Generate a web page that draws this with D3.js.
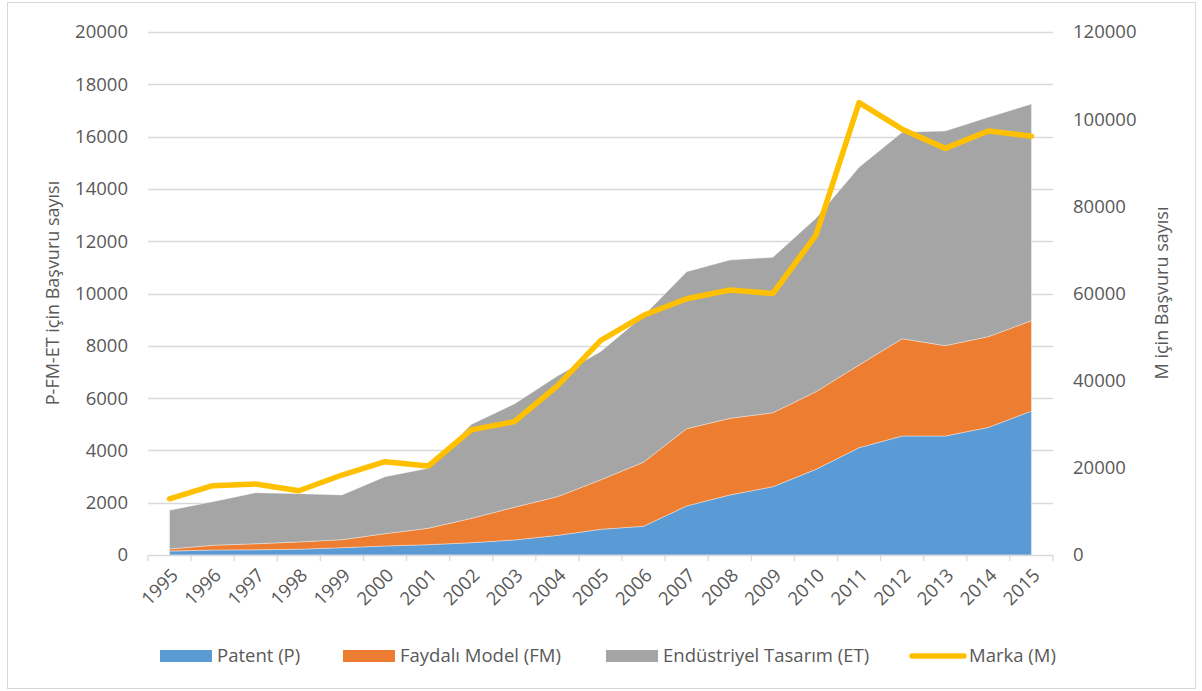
<!DOCTYPE html>
<html>
<head>
<meta charset="utf-8">
<script src="https://cdn.jsdelivr.net/npm/d3@7"></script>
<style>
  body { margin: 0; background: #fff; }
  svg text { font-family: "Open Sans", sans-serif; fill: #595959; }
</style>
</head>
<body>
<svg width="1202" height="691"></svg>
<script>
// data
var years = ["1995","1996","1997","1998","1999","2000","2001","2002","2003","2004","2005",
             "2006","2007","2008","2009","2010","2011","2012","2013","2014","2015"];
var patent = [150,190,200,220,280,345,395,470,575,750,980,1100,1875,2295,2610,3275,4105,4550,4550,4880,5505];
var faydali = [80,180,230,280,305,470,625,930,1250,1480,1890,2450,2955,2930,2830,2970,3160,3720,3455,3470,3455];
var endustriyel = [1480,1670,1950,1845,1710,2180,2295,3595,3950,4615,4905,5600,6005,6055,5945,6630,7560,7895,8210,8390,8285];
var marka = [12900,15900,16300,14750,18350,21400,20400,28700,30600,38800,49200,55000,58800,60800,60000,73400,103800,97700,93300,97300,96100];

var leftTicks = [0,2000,4000,6000,8000,10000,12000,14000,16000,18000,20000];
var rightTicks = [0,20000,40000,60000,80000,100000,120000];

var seriesNames = ["Patent (P)", "Faydalı Model (FM)", "Endüstriyel Tasarım (ET)"];
var seriesColors = ["#5B9BD5", "#ED7D31", "#A5A5A5"];

var svg = d3.select("svg");

// outer chart border
svg.append("rect")
    .attr("x", 7.5).attr("y", 2.5)
    .attr("width", 1188).attr("height", 686)
    .attr("fill", "none")
    .attr("stroke", "#d9d9d9");

var x = d3.scaleBand().domain(years).range([148, 1053]);
var y = d3.scaleLinear().domain([0, 20000]).range([555, 32]);
var y2 = d3.scaleLinear().domain([0, 120000]).range([555, 32]);
var cx = function (yr) { return x(yr) + x.bandwidth() / 2; };

// gridlines
svg.append("g")
    .selectAll("line")
    .data(leftTicks.slice(1))
    .enter().append("line")
    .attr("x1", 148).attr("x2", 1053)
    .attr("y1", function (d) { return Math.round(y(d)) + 0.5; })
    .attr("y2", function (d) { return Math.round(y(d)) + 0.5; })
    .style("stroke", "#d9d9d9")
    .style("stroke-width", 1.3);

// stacked areas
var table = years.map(function (yr, i) {
    return { year: yr, p: patent[i], fm: faydali[i], et: endustriyel[i] };
});
var stack = d3.stack().keys(["p", "fm", "et"]);
var layers = stack(table);

var area = d3.area()
    .x(function (d) { return cx(d.data.year); })
    .y0(function (d) { return y(d[0]); })
    .y1(function (d) { return y(d[1]); });

svg.append("g")
    .selectAll("path")
    .data(layers)
    .enter().append("path")
    .attr("d", area)
    .attr("fill", function (d, i) { return seriesColors[i]; })
    .style("stroke", "#ffffff")
    .style("stroke-width", 0.6)
    .style("stroke-opacity", 0.6);

// x axis
var xAxis = svg.append("g")
    .attr("transform", "translate(0,555)")
    .call(d3.axisBottom(x).tickSize(0).tickFormat(""));
xAxis.select(".domain").style("stroke", "#d9d9d9").style("stroke-width", 1.3);

svg.append("g")
    .selectAll("line")
    .data(years.concat(["end"]))
    .enter().append("line")
    .attr("x1", function (d, i) { return 148 + i * x.bandwidth(); })
    .attr("x2", function (d, i) { return 148 + i * x.bandwidth(); })
    .attr("y1", 555).attr("y2", 561)
    .style("stroke", "#d9d9d9")
    .style("stroke-width", 1.3);

svg.append("g")
    .selectAll("text")
    .data(years)
    .enter().append("text")
    .attr("transform", function (d) { return "translate(" + (cx(d) + 5) + ",572) rotate(-45)"; })
    .attr("text-anchor", "end")
    .attr("dy", "0.35em")
    .style("font-size", "18.5px")
    .text(function (d) { return d; });

// left axis labels
svg.append("g")
    .selectAll("text")
    .data(leftTicks)
    .enter().append("text")
    .attr("x", 128)
    .attr("y", function (d) { return y(d); })
    .attr("dy", "0.35em")
    .attr("text-anchor", "end")
    .style("font-size", "18.5px")
    .text(function (d) { return d; });

// right axis labels
svg.append("g")
    .selectAll("text")
    .data(rightTicks)
    .enter().append("text")
    .attr("x", 1073)
    .attr("y", function (d) { return y2(d); })
    .attr("dy", "0.35em")
    .attr("text-anchor", "start")
    .style("font-size", "18.5px")
    .text(function (d) { return d; });

// axis titles
svg.append("text")
    .attr("transform", "translate(59,293) rotate(-90)")
    .attr("text-anchor", "middle")
    .style("font-size", "18px")
    .text("P-FM-ET için Başvuru sayısı");

svg.append("text")
    .attr("transform", "translate(1168,293) rotate(-90)")
    .attr("text-anchor", "middle")
    .style("font-size", "18px")
    .text("M için Başvuru sayısı");

// marka line on secondary axis
var line = d3.line()
    .x(function (d, i) { return cx(years[i]); })
    .y(function (d) { return y2(d); });

svg.append("path")
    .attr("d", line(marka))
    .style("fill", "none")
    .style("stroke", "#FFC000")
    .style("stroke-width", 5.5)
    .style("stroke-linejoin", "round")
    .style("stroke-linecap", "round");

// legend
var legendX = [160, 343, 606];
var legend = svg.append("g");
seriesNames.forEach(function (name, i) {
    legend.append("rect")
        .attr("x", legendX[i]).attr("y", 650)
        .attr("width", 52).attr("height", 12)
        .attr("fill", seriesColors[i]);
    legend.append("text")
        .attr("x", legendX[i] + 57).attr("y", 656)
        .attr("dy", "0.35em")
        .style("font-size", "18.5px")
        .text(name);
});
legend.append("line")
    .attr("x1", 912).attr("x2", 964)
    .attr("y1", 656).attr("y2", 656)
    .style("stroke", "#FFC000")
    .style("stroke-width", 5.5)
    .style("stroke-linecap", "round");
legend.append("text")
    .attr("x", 969).attr("y", 656)
    .attr("dy", "0.35em")
    .style("font-size", "18.5px")
    .text("Marka (M)");
</script>
</body>
</html>
